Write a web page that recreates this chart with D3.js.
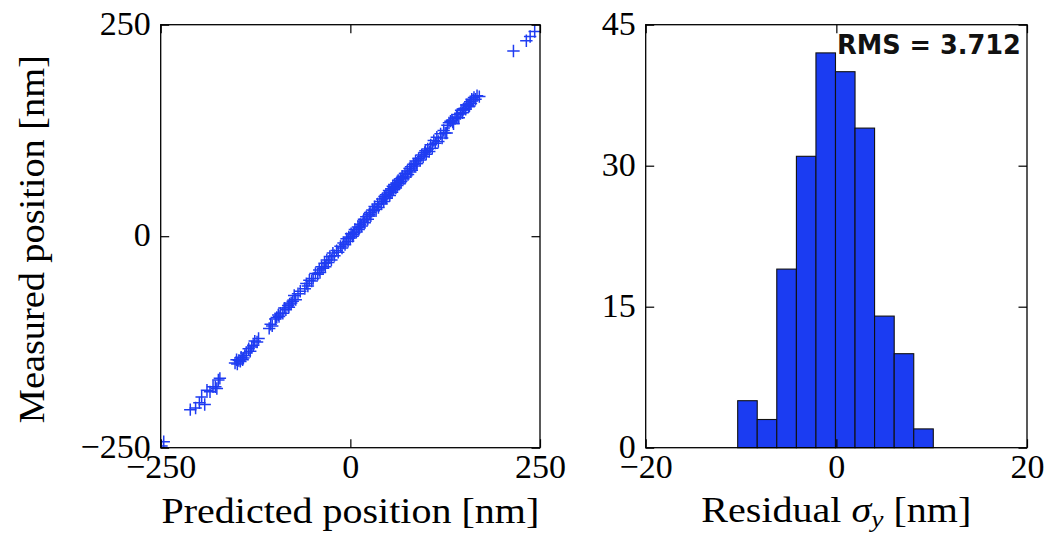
<!DOCTYPE html>
<html>
<head>
<meta charset="utf-8">
<script src="https://cdn.jsdelivr.net/npm/d3@7"></script>
<style>
  html, body { margin: 0; padding: 0; background: #fff; }
  svg { display: block; }
</style>
</head>
<body>
<svg id="fig" width="1045" height="536"></svg>
<script>
// Predicted vs measured position of each bead [nm]
const predicted = [
  -249, -246,
  -211, -204, -199, -196, -192, -189, -185, -181, -178, -176, -174, -172,
  -152, -150, -149, -147, -145, -144, -142, -141, -139, -137, -134, -132, -130, -128, -126, -123, -121,
  -107, -105, -103, -99, -97, -95, -94, -92, -89, -87, -85, -82, -81, -80, -78, -76, -74, -72, -69, -66,
  -60, -58, -56, -54, -51, -49, -46, -43, -41, -40, -38, -36, -34, -33, -31, -29, -27, -25, -23, -21, -18, -16,
  -13, -11, -9, -7, -5, -3, -2, 0, 1, 3, 4, 5, 6, 8, 10, 11, 12, 13, 15, 17, 18, 19, 21, 23, 25, 26, 27, 29,
  31, 32, 34, 36, 37, 39, 41, 42, 44, 45, 46, 47, 48, 50, 51, 52, 53, 54, 55, 56, 57, 58, 59, 60, 61, 62, 63, 64, 65, 66, 67, 68, 69, 70, 72, 73,
  75, 76, 78, 79, 80, 81, 83, 85, 86, 87, 88, 90, 92, 94, 96, 98, 99, 100, 102, 104, 106, 108, 110, 112, 114, 116,
  119, 121, 123, 125, 127, 128, 130, 132, 134, 135, 136, 138, 140, 141, 143, 145, 146, 148, 149, 150, 152, 153, 155, 156, 157, 158, 159, 160, 162, 163, 165, 167, 170,
  215, 232, 237, 243
];
const measured = [
  -248, -243,
  -205, -203, -197, -190, -199, -182, -184, -178, -178, -180, -170, -168,
  -150, -146, -151, -147, -148, -143, -146, -144, -141, -138, -133, -136, -131, -129, -124, -125, -121,
  -109, -104, -106, -98, -96, -93, -95, -91, -91, -85, -87, -82, -84, -80, -79, -77, -70, -75, -68, -65,
  -62, -56, -59, -52, -53, -50, -44, -45, -40, -43, -36, -38, -32, -36, -28, -31, -24, -28, -20, -23, -17, -19,
  -12, -14, -8, -10, -3, -6, -1, -2, 3, 0, 2, 4, 8, 5, 11, 8, 10, 14, 12, 18, 20, 16, 23, 20, 26, 28, 24, 31,
  30, 35, 32, 38, 34, 41, 38, 44, 41, 47, 45, 49, 45, 51, 54, 48, 52, 56, 52, 59, 55, 61, 58, 57, 63, 60, 66, 63, 62, 68, 65, 69, 71, 68, 74, 70,
  77, 73, 80, 76, 82, 78, 85, 83, 89, 86, 86, 92, 90, 96, 94, 99, 101, 97, 103, 100, 108, 104, 113, 110, 117, 112,
  121, 116, 125, 122, 122, 131, 134, 136, 137, 135, 133, 139, 141, 144, 140, 145, 149, 146, 150, 151, 150, 155, 155, 153, 154, 159, 157, 162, 161, 164, 162, 166, 165,
  219, 231, 236, 242
];
const scatterTicks = [-250, 0, 250];

// Histogram of residuals sigma_y [nm]
const residualBinEdges = [-10.35, -8.30, -6.25, -4.19, -2.14, -0.09, 1.96, 4.01, 6.07, 8.12, 10.17];
const residualCounts = [5, 3, 19, 31, 42, 40, 34, 14, 10, 2];
const histXTicks = [-20, 0, 20];
const histYTicks = [0, 15, 30, 45];
const rmsText = "RMS = 3.712";

const svg = d3.select("#fig");
const serif = "'Liberation Serif', 'Times New Roman', serif";
const tickFont = 34;
const tickLen = 8.5;
const ink = "#000";
const blue = "#1f3cf2";

const plotTop = 24.7, plotBottom = 447.7;
const panelA = { left: 160.7, right: 540 };
const panelB = { left: 645.7, right: 1027 };

function fmt(d) { return d < 0 ? "\u2212" + Math.abs(d) : String(d); }

// Inward ticks on all four sides; labels only on left and bottom.
function drawAxes(g, xs, ys, xt, yt) {
  const styleAxis = sel => {
    sel.select(".domain").remove();
    sel.selectAll("line").attr("stroke", ink).attr("stroke-width", 1.2);
    sel.selectAll("text").attr("font-family", serif).attr("font-size", tickFont).attr("fill", ink);
  };
  g.append("g").attr("transform", `translate(0,${plotBottom})`)
    .call(d3.axisBottom(xs).tickValues(xt).tickFormat(fmt).tickSizeInner(-tickLen).tickSizeOuter(0).tickPadding(6))
    .call(styleAxis);
  g.append("g").attr("transform", `translate(0,${plotTop})`)
    .call(d3.axisTop(xs).tickValues(xt).tickFormat("").tickSizeInner(-tickLen).tickSizeOuter(0))
    .call(styleAxis);
  g.append("g").attr("transform", `translate(${xs.range()[0]},0)`)
    .call(d3.axisLeft(ys).tickValues(yt).tickFormat(fmt).tickSizeInner(-tickLen).tickSizeOuter(0).tickPadding(10))
    .call(styleAxis)
    .selectAll("text").attr("dy", "0.28em");
  g.append("g").attr("transform", `translate(${xs.range()[1]},0)`)
    .call(d3.axisRight(ys).tickValues(yt).tickFormat("").tickSizeInner(-tickLen).tickSizeOuter(0))
    .call(styleAxis);
  g.append("rect")
    .attr("x", xs.range()[0]).attr("y", plotTop)
    .attr("width", xs.range()[1] - xs.range()[0]).attr("height", plotBottom - plotTop)
    .attr("fill", "none").attr("stroke", ink).attr("stroke-width", 1.3);
}

// Stretch a text element horizontally about its anchor point to a target width.
function fitWidth(textSel, width) {
  const w = textSel.node().getComputedTextLength();
  const x = +textSel.attr("x") || 0, y = +textSel.attr("y") || 0;
  textSel.attr("transform", `translate(${x},${y}) scale(${width / w},1) translate(${-x},${-y})`);
}

// ---- Left panel: measured vs predicted ----
const xA = d3.scaleLinear().domain([-250, 250]).range([panelA.left, panelA.right]);
const yA = d3.scaleLinear().domain([-250, 250]).range([plotBottom, plotTop]);
const gA = svg.append("g");

svg.append("defs").append("clipPath").attr("id", "clipA")
  .append("rect").attr("x", panelA.left).attr("y", plotTop)
  .attr("width", panelA.right - panelA.left).attr("height", plotBottom - plotTop);

const arm = 6.2;
gA.append("g").attr("clip-path", "url(#clipA)")
  .selectAll("path.pt")
  .data(d3.zip(predicted, measured))
  .join("path")
  .attr("class", "pt")
  .attr("d", d => {
    const px = xA(d[0]), py = yA(d[1]);
    return `M${px - arm},${py}H${px + arm}M${px},${py - arm}V${py + arm}`;
  })
  .attr("stroke", blue).attr("stroke-width", 1.5).attr("fill", "none");

drawAxes(gA, xA, yA, scatterTicks, scatterTicks);

const titleA = svg.append("text")
  .attr("x", (panelA.left + panelA.right) / 2).attr("y", 523)
  .attr("text-anchor", "middle").attr("font-family", serif).attr("font-size", 35)
  .text("Predicted position [nm]");
fitWidth(titleA, 378);

const titleAy = svg.append("text")
  .attr("text-anchor", "middle").attr("font-family", serif).attr("font-size", 35)
  .text("Measured position [nm]");
{
  const w = titleAy.node().getComputedTextLength();
  titleAy.attr("transform", `translate(44,${(plotTop + plotBottom) / 2 + 3}) rotate(-90) scale(${368 / w},1)`);
}

// ---- Right panel: residual histogram ----
const xB = d3.scaleLinear().domain([-20, 20]).range([panelB.left, panelB.right]);
const yB = d3.scaleLinear().domain([0, 45]).range([plotBottom, plotTop]);
const gB = svg.append("g");

const bins = residualCounts.map((c, i) => ({ x0: residualBinEdges[i], x1: residualBinEdges[i + 1], n: c }));
gB.selectAll("rect.bar")
  .data(bins)
  .join("rect")
  .attr("class", "bar")
  .attr("x", d => xB(d.x0))
  .attr("y", d => yB(d.n))
  .attr("width", d => xB(d.x1) - xB(d.x0))
  .attr("height", d => yB(0) - yB(d.n))
  .attr("fill", "#1b3cf2").attr("stroke", "#111").attr("stroke-width", 1.1);

drawAxes(gB, xB, yB, histXTicks, histYTicks);

const rms = svg.append("text")
  .attr("x", 837).attr("y", 54)
  .attr("font-family", "'DejaVu Sans', Verdana, sans-serif").attr("font-weight", "bold")
  .attr("font-size", 27).attr("fill", "#111")
  .text(rmsText);
fitWidth(rms, 184);

const titleB = svg.append("text")
  .attr("x", (panelB.left + panelB.right) / 2).attr("y", 522)
  .attr("text-anchor", "middle").attr("font-family", serif).attr("font-size", 35);
titleB.append("tspan").text("Residual ");
titleB.append("tspan").attr("font-style", "italic").text("\u03C3");
titleB.append("tspan").attr("font-style", "italic").attr("font-size", 24).attr("dy", 5).text("y");
titleB.append("tspan").attr("dy", -5).text(" [nm]");
{
  const w = titleB.node().getBBox().width;
  const cx = (panelB.left + panelB.right) / 2;
  titleB.attr("transform", `translate(${cx},0) scale(${270 / w},1) translate(${-cx},0)`);
}
</script>
</body>
</html>
